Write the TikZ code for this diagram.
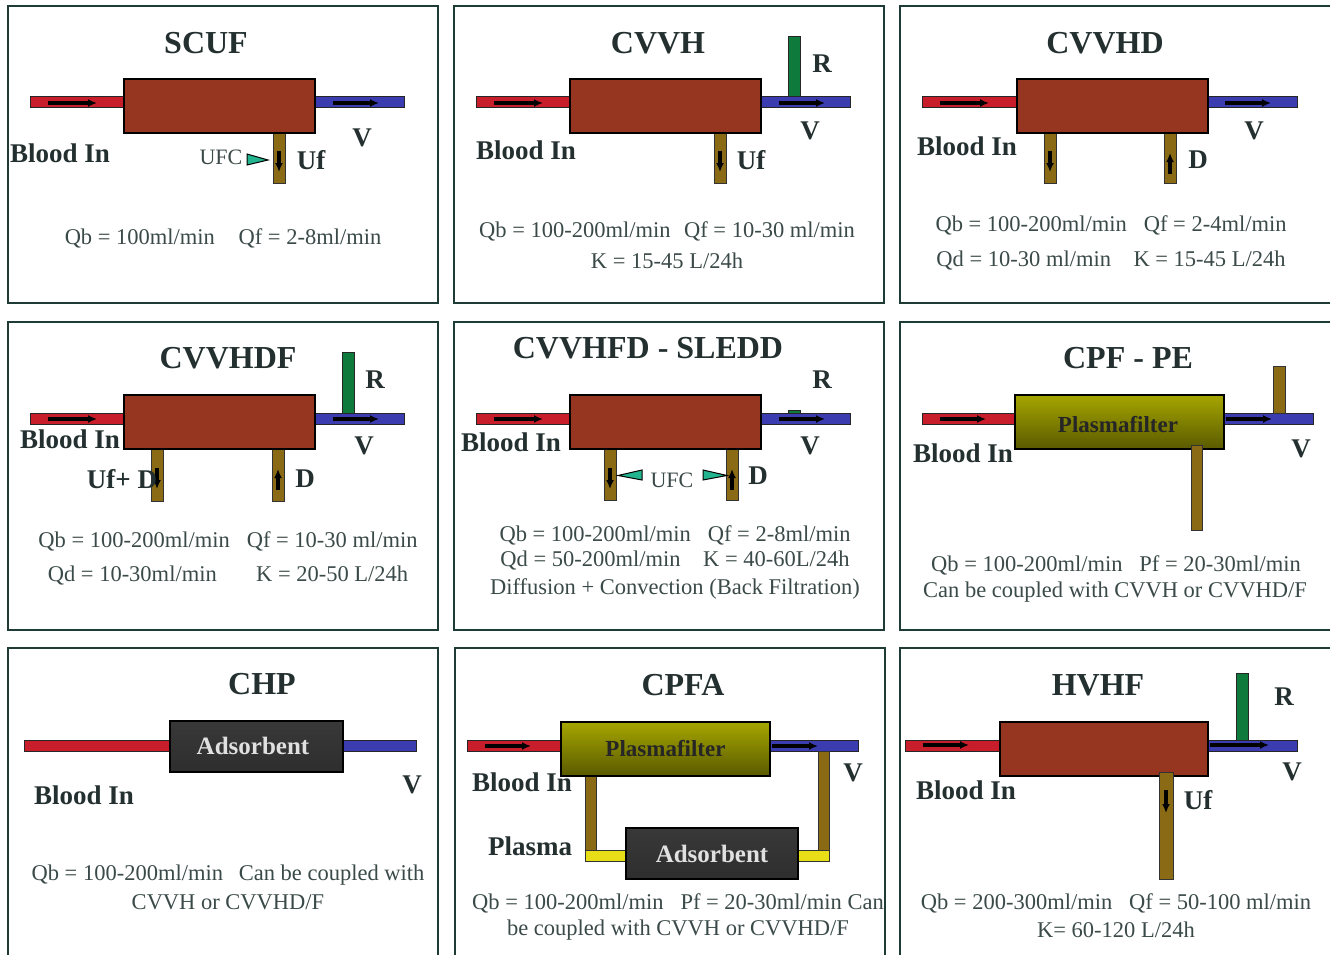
\documentclass[tikz,border=0pt]{standalone}
\usepackage{fontspec}
\setmainfont{Liberation Serif}
\usetikzlibrary{arrows.meta}
\definecolor{framec}{HTML}{1E3B36}
\definecolor{inkc}{HTML}{23302F}
\definecolor{bodyc}{HTML}{3A4A48}
\definecolor{filterc}{HTML}{963520}
\definecolor{redc}{HTML}{C81E2C}
\definecolor{bluec}{HTML}{3A3CB0}
\definecolor{greenc}{HTML}{0E7A3C}
\definecolor{tealc}{HTML}{22B48E}
\definecolor{tubeedge}{HTML}{8A6A14}
\definecolor{tubemid}{HTML}{F0BE14}
\tikzset{
  panel/.style={draw=framec,line width=1.8pt},
  filterbox/.style={draw=black,line width=2.6pt,fill=filterc,inner sep=0pt,outer sep=0pt},
  plasmabox/.style={draw=black,line width=2.6pt,top color=yellow!65!black,middle color=yellow!92!black,bottom color=yellow!35!black,inner sep=0pt,outer sep=0pt,font=\fontsize{23}{25}\selectfont\bfseries,text=black!85},
  adsorbbox/.style={draw=black,line width=2.6pt,top color=black!78,middle color=black!45,bottom color=black!82,inner sep=0pt,outer sep=0pt,font=\fontsize{25}{27}\selectfont\bfseries,text=black!12},
  bloodred/.style={draw=black!85,line width=1pt,fill=redc},
  bloodblue/.style={draw=black!85,line width=1pt,fill=bluec},
  reinf/.style={draw=black!85,line width=1pt,fill=greenc},
  tubegold/.style={draw=black!80,line width=1pt,left color=tubeedge,middle color=tubemid,right color=tubeedge},
  tubeyellow/.style={draw=black!80,line width=1pt,fill=yellow!90!black},
  flow/.style={-{Latex[length=9pt,width=8pt]},line width=3.6pt,black},
  ufcmark/.style={draw=black,line width=1pt,fill=tealc},
  titletxt/.style={font=\fontsize{32}{34}\selectfont\bfseries,text=inkc},
  lab/.style={font=\fontsize{27}{29}\selectfont\bfseries,text=inkc},
  info/.style={font=\fontsize{22.5}{24}\selectfont,text=bodyc,inner sep=0pt},
  ufctxt/.style={font=\fontsize{22}{24}\selectfont,text=bodyc,inner sep=0pt},
}
\begin{document}
\begin{tikzpicture}[x=1pt,y=-1pt]
    \useasboundingbox[fill=white] (0,0) rectangle (1330,955);

    % Cadres
    \draw[panel] (8,6) rectangle (438,303);
    \draw[panel] (454,6) rectangle (884,303);
    \draw[panel] (900,6) rectangle (1345,303);
    \draw[panel] (8,322) rectangle (438,630);
    \draw[panel] (454,322) rectangle (884,630);
    \draw[panel] (900,322) rectangle (1345,630);
    \draw[panel] (8,648) rectangle (438,975);
    \draw[panel] (455,648) rectangle (885,975);
    \draw[panel] (900,648) rectangle (1345,975);

    % SCUF
    \node[titletxt] (t1) at (206,43) {SCUF};
    \draw[bloodred] (30,97) rectangle (124,108);
    \draw[bloodblue] (315,97) rectangle (404,108);
    \draw[tubegold] (273,133) rectangle (285,183);
    \node[filterbox,minimum width=191pt,minimum height=54pt] (f1) at (219.5,106) {};
    \draw[flow] (48,103) -- (97,103);
    \draw[flow] (333,103) -- (379,103);
    \draw[flow] (279,151) -- (279,172);
    \draw[ufcmark] (247,154) -- (268,160) -- (247,165) -- cycle;
    \node[lab] (b1) at (60,153) {Blood In};
    \node[ufctxt] (u1) at (221,157) {UFC};
    \node[lab] (uf1) at (311,160) {Uf};
    \node[lab] (v1) at (362,138) {V};
    \node[info] (q1) at (223,238) {Qb = 100ml/min\hspace{1.05em}Qf = 2-8ml/min};

    % CVVH
    \node[titletxt] (t2) at (658,43) {CVVH};
    \draw[bloodred] (476,97) rectangle (570,108);
    \draw[bloodblue] (761,97) rectangle (850,108);
    \draw[reinf] (788,37) rectangle (800,97);
    \draw[tubegold] (714,133) rectangle (726,183);
    \node[filterbox,minimum width=191pt,minimum height=54pt] (f2) at (665.5,106) {};
    \draw[flow] (494,103) -- (543,103);
    \draw[flow] (779,103) -- (825,103);
    \draw[flow] (720,151) -- (720,172);
    \node[lab] (b2) at (526,150) {Blood In};
    \node[lab] (r2) at (822,64) {R};
    \node[lab] (v2) at (810,131) {V};
    \node[lab] (uf2) at (751,160) {Uf};
    \node[info] (q2) at (667,231) {Qb = 100-200ml/min\hspace{.6em}Qf = 10-30 ml/min};
    \node[info] (k2) at (667,261) {K = 15-45 L/24h};

    % CVVHD
    \node[titletxt] (t3) at (1105,43) {CVVHD};
    \draw[bloodred] (922,97) rectangle (1017,108);
    \draw[bloodblue] (1208,97) rectangle (1297,108);
    \draw[tubegold] (1044,133) rectangle (1056,183);
    \draw[tubegold] (1164,133) rectangle (1176,183);
    \node[filterbox,minimum width=191pt,minimum height=54pt] (f3) at (1112.5,106) {};
    \draw[flow] (940,103) -- (989,103);
    \draw[flow] (1225,103) -- (1271,103);
    \draw[flow] (1050,151) -- (1050,172);
    \draw[flow] (1170,174) -- (1170,153);
    \node[lab] (b3) at (967,146) {Blood In};
    \node[lab] (v3) at (1254,131) {V};
    \node[lab] (d3) at (1198,160) {D};
    \node[info] (q3) at (1111,225) {Qb = 100-200ml/min\hspace{.75em}Qf = 2-4ml/min};
    \node[info] (k3) at (1111,261) {Qd = 10-30 ml/min\hspace{1em}K = 15-45 L/24h};

    % CVVHDF
    \node[titletxt] (t4) at (228,358) {CVVHDF};
    \draw[bloodred] (30,413) rectangle (124,424);
    \draw[bloodblue] (315,413) rectangle (404,424);
    \draw[reinf] (342,352) rectangle (354,413);
    \draw[tubegold] (151,449) rectangle (163,501);
    \draw[tubegold] (272,449) rectangle (284,501);
    \node[filterbox,minimum width=191pt,minimum height=54pt] (f4) at (219.5,422) {};
    \draw[flow] (48,419) -- (97,419);
    \draw[flow] (333,419) -- (379,419);
    \draw[flow] (157,468) -- (157,489);
    \draw[flow] (278,490) -- (278,469);
    \node[lab] (b4) at (70,439) {Blood In};
    \node[lab] (r4) at (375,380) {R};
    \node[lab] (v4) at (364,446) {V};
    \node[lab] (uf4) at (122,479) {Uf+ D};
    \node[lab] (d4) at (305,479) {D};
    \node[info] (q4) at (228,541) {Qb = 100-200ml/min\hspace{.75em}Qf = 10-30 ml/min};
    \node[info] (k4) at (228,576) {Qd = 10-30ml/min\hspace{1.75em}K = 20-50 L/24h};

    % CVVHFD - SLEDD
    \node[titletxt] (t5) at (648,348) {CVVHFD - SLEDD};
    \draw[bloodred] (476,413) rectangle (570,424);
    \draw[bloodblue] (761,413) rectangle (850,424);
    \draw[reinf] (788,410) rectangle (800,413);
    \draw[tubegold] (604,449) rectangle (616,500);
    \draw[tubegold] (726,449) rectangle (738,500);
    \node[filterbox,minimum width=191pt,minimum height=54pt] (f5) at (665.5,422) {};
    \draw[flow] (494,419) -- (543,419);
    \draw[flow] (779,419) -- (825,419);
    \draw[flow] (610,468) -- (610,489);
    \draw[flow] (732,490) -- (732,469);
    \draw[ufcmark] (642,470) -- (618,475.5) -- (642,480) -- cycle;
    \draw[ufcmark] (703,470) -- (727,475.5) -- (703,480) -- cycle;
    \node[ufctxt] (u5) at (672,480) {UFC};
    \node[lab] (b5) at (511,442) {Blood In};
    \node[lab] (r5) at (822,380) {R};
    \node[lab] (v5) at (810,446) {V};
    \node[lab] (d5) at (758,476) {D};
    \node[info] (q5) at (675,535) {Qb = 100-200ml/min\hspace{.75em}Qf = 2-8ml/min};
    \node[info] (k5) at (675,561) {Qd = 50-200ml/min\hspace{1em}K = 40-60L/24h};
    \node[info] (m5) at (675,589) {Diffusion + Convection (Back Filtration)};

    % CPF - PE
    \node[titletxt] (t6) at (1128,358) {CPF - PE};
    \draw[bloodred] (922,413) rectangle (1015,424);
    \draw[bloodblue] (1224,413) rectangle (1313,424);
    \draw[tubegold] (1273,366) rectangle (1285,413);
    \node[plasmabox,minimum width=209pt,minimum height=54pt] (f6) at (1119.5,422) {};
    \node[font=\fontsize{23}{25}\selectfont\bfseries,text=black!85] (p6) at (1118,425) {Plasmafilter};
    \draw[tubegold] (1191,445) rectangle (1202,530);
    \draw[flow] (940,419) -- (986,419);
    \draw[flow] (1226,419) -- (1272,419);
    \node[lab] (b6) at (963,453) {Blood In};
    \node[lab] (v6) at (1301,449) {V};
    \node[info] (q6) at (1116,565) {Qb = 100-200ml/min\hspace{.75em}Pf = 20-30ml/min};
    \node[info] (k6) at (1115,592) {Can be coupled with CVVH or CVVHD/F};

    % CHP
    \node[titletxt] (t7) at (262,684) {CHP};
    \draw[bloodred] (24,740) rectangle (170,751);
    \draw[bloodblue] (343,740) rectangle (416,751);
    \node[adsorbbox,minimum width=173pt,minimum height=51pt] (a7) at (256.5,746.5) {};
    \node[font=\fontsize{25}{27}\selectfont\bfseries,text=black!12] (s7) at (253,746) {Adsorbent};
    \node[lab] (b7) at (84,795) {Blood In};
    \node[lab] (v7) at (412,785) {V};
    \node[info] (q7) at (228,875) {Qb = 100-200ml/min\hspace{.7em}Can be coupled with};
    \node[info] (k7) at (228,902) {CVVH or CVVHD/F};

    % CPFA
    \node[titletxt] (t8) at (683,685) {CPFA};
    \draw[bloodred] (467,740) rectangle (561,751);
    \draw[bloodblue] (770,740) rectangle (858,751);
    \draw[tubegold] (585,776) rectangle (596,850);
    \draw[tubegold] (818,751) rectangle (829,850);
    \draw[tubeyellow] (585,850) rectangle (627,861);
    \draw[tubeyellow] (798,850) rectangle (829,861);
    \node[plasmabox,minimum width=209pt,minimum height=54pt] (f8) at (665.5,749) {Plasmafilter};
    \node[adsorbbox,minimum width=172pt,minimum height=51pt] (a8) at (712,853.5) {Adsorbent};
    \draw[flow] (485,746) -- (531,746);
    \draw[flow] (772,746) -- (818,746);
    \node[lab] (b8) at (522,782) {Blood In};
    \node[lab] (l8) at (530,846) {Plasma};
    \node[lab] (v8) at (853,773) {V};
    \node[info] (q8) at (678,903) {Qb = 100-200ml/min\hspace{.75em}Pf = 20-30ml/min Can};
    \node[info] (k8) at (678,930) {be coupled with CVVH or CVVHD/F};

    % HVHF
    \node[titletxt] (t9) at (1098,685) {HVHF};
    \draw[bloodred] (905,740) rectangle (1000,751);
    \draw[bloodblue] (1208,740) rectangle (1297,751);
    \draw[reinf] (1236,673) rectangle (1248,740);
    \node[filterbox,minimum width=208pt,minimum height=54pt] (f9) at (1104,749) {};
    \draw[tubegold] (1159,772) rectangle (1173,879);
    \draw[flow] (923,745) -- (969,745);
    \draw[flow] (1210,745) -- (1269,745);
    \draw[flow] (1166,790) -- (1166,813);
    \node[lab] (b9) at (966,790) {Blood In};
    \node[lab] (r9) at (1284,697) {R};
    \node[lab] (v9) at (1292,772) {V};
    \node[lab] (uf9) at (1198,800) {Uf};
    \node[info] (q9) at (1116,903) {Qb = 200-300ml/min\hspace{.75em}Qf = 50-100 ml/min};
    \node[info] (k9) at (1116,930) {K= 60-120 L/24h};
\end{tikzpicture}
\end{document}
